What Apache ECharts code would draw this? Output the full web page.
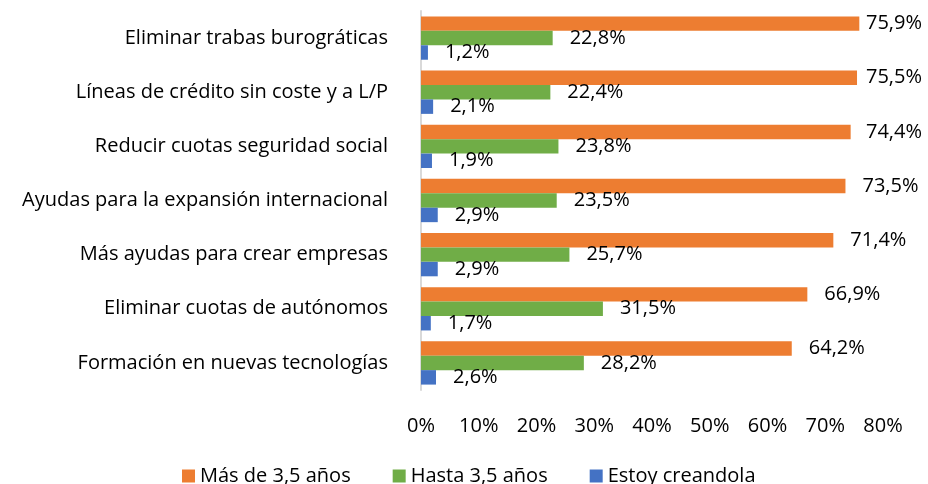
<!DOCTYPE html>
<html>
<head>
<meta charset="utf-8">
<script src="https://cdn.jsdelivr.net/npm/echarts@6/dist/echarts.min.js"></script>
<style>
  html, body { margin: 0; padding: 0; background: #fff; }
  #chart { width: 928px; height: 484px; }
</style>
</head>
<body>
<div id="chart"></div>
<script>
// datos (porcentajes)
const categories = [
  'Eliminar trabas burográticas',
  'Líneas de crédito sin coste y a L/P',
  'Reducir cuotas seguridad social',
  'Ayudas para la expansión internacional',
  'Más ayudas para crear empresas',
  'Eliminar cuotas de autónomos',
  'Formación en nuevas tecnologías'
]
const seriesNames = ['Más de 3,5 años', 'Hasta 3,5 años', 'Estoy creandola']
const masDe35 = [75.9, 75.5, 74.4, 73.5, 71.4, 66.9, 64.2]
const hasta35 = [22.8, 22.4, 23.8, 23.5, 25.7, 31.5, 28.2]
const creandola = [1.2, 2.1, 1.9, 2.9, 2.9, 1.7, 2.6]
const xTicks = [0, 10, 20, 30, 40, 50, 60, 70, 80]

const colors = ['#ED7D31', '#70AD47', '#4472C4']
const FONT = 'Open Sans'
const FS = 20

const gridLeft = 421
const gridRight = 45
const pxPerUnit = (928 - gridLeft - gridRight) / 80

// etiquetas fuera del extremo, sin salirse del gráfico
function labelData (values) {
  return values.map(v => {
    const end = gridLeft + v * pxPerUnit
    const dist = Math.min(17, 866 - end)
    return { value: v, label: { distance: dist } }
  })
}

const fmt = p => p.value.toFixed(1).replace('.', ',') + '%'

const myChart = echarts.init(document.getElementById('chart'))
const option = {
  animation: false,
  textStyle: { fontFamily: FONT },
  grid: {
    left: gridLeft,
    right: gridRight,
    top: 11,
    bottom: 94
  },
  legend: {
    left: 177,
    top: 461,
    icon: 'rect',
    itemWidth: 13,
    itemHeight: 13,
    itemGap: 42,
    itemTextGap: 7,
    textStyle: { fontFamily: FONT, fontSize: FS, color: '#000' },
    data: seriesNames
  },
  xAxis: {
    type: 'value',
    min: 0,
    max: 80,
    interval: 10,
    splitLine: { show: false },
    axisLine: { show: false },
    axisTick: { show: false },
    axisLabel: {
      margin: 26,
      fontFamily: FONT,
      fontSize: FS,
      color: '#000',
      formatter: v => xTicks.includes(v) ? v + '%' : ''
    }
  },
  yAxis: {
    type: 'category',
    inverse: true,
    data: categories,
    axisLine: { show: true, lineStyle: { color: '#D9D9D9', width: 2 } },
    axisTick: { show: false },
    axisLabel: {
      margin: 33,
      fontFamily: FONT,
      fontSize: FS,
      color: '#000'
    }
  },
  series: [masDe35, hasta35, creandola].map((vals, i) => ({
    name: seriesNames[i],
    type: 'bar',
    barGap: '0%',
    barCategoryGap: '20%',
    data: labelData(vals),
    itemStyle: { color: colors[i] },
    label: {
      show: true,
      position: 'right',
      fontFamily: FONT,
      fontSize: FS,
      color: '#000',
      formatter: fmt
    }
  }))
}
myChart.setOption(option)
</script>
</body>
</html>
